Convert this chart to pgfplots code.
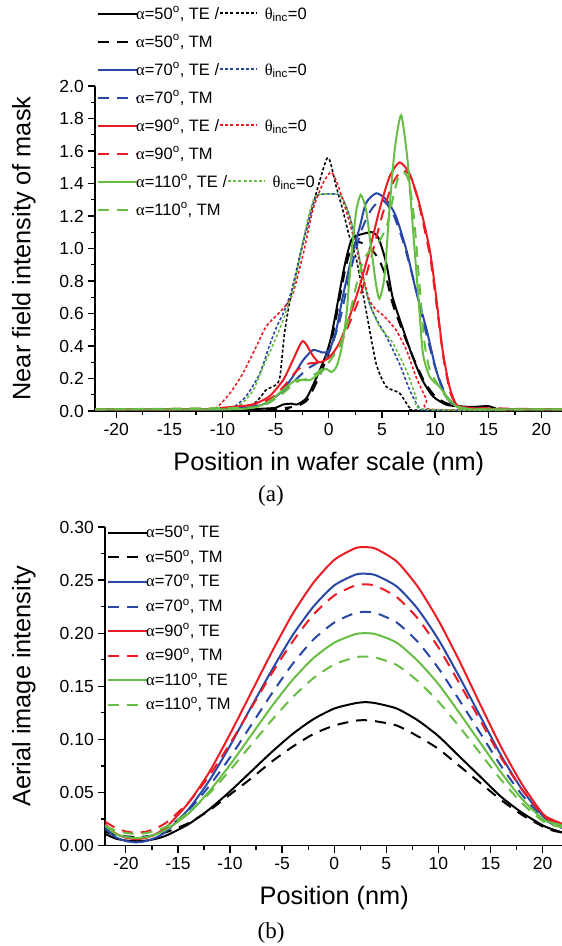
\documentclass[border=0pt]{standalone}
\usepackage{fontspec}
\setmainfont{Liberation Sans}
\newfontfamily\grk{Liberation Serif}
\usepackage{pgfplots}
\pgfplotsset{compat=1.18}

\definecolor{cblue}{RGB}{41,72,165}
\definecolor{cred}{RGB}{236,28,36}
\definecolor{cgreen}{RGB}{104,189,69}

\newcommand{\tickfont}{\fontsize{17.5}{21}\selectfont}
\newcommand{\legfont}{\fontsize{16.5}{19.8}\selectfont}
\newcommand{\labfont}{\fontsize{25.3}{30}\selectfont}
\newcommand{\al}{{\grk α}}
\newcommand{\tht}{{\grk θ}}
\newcommand{\dsample}[1]{\tikz[baseline=-6pt]\draw[#1,line width=1.6pt,dash pattern=on 3pt off 2.2pt](0pt,0pt)--(37pt,0pt);}
\newcommand{\teentry}[2]{\al=#1\textsuperscript{o}, TE /\dsample{#2}\hspace{7pt}\tht\textsubscript{inc}=0}
\newcommand{\tmentry}[1]{\al=#1\textsuperscript{o}, TM}

\pgfplotsset{
  te/.style={line width=2pt, smooth, tension=0.4},
  tm/.style={line width=2pt, dash pattern=on 11pt off 8pt, smooth, tension=0.4},
  inc/.style={line width=1.6pt, dash pattern=on 3pt off 2.2pt, smooth, tension=0.4},
  panel/.style={
    scale only axis, anchor=south west,
    xmin=-22, xmax=22, ymin=0,
    axis x line*=bottom, axis y line*=left,
    axis line style={-, line width=1.5pt},
    tick align=outside, major tick length=7pt, minor tick length=4pt,
    every tick/.style={black, line width=1.3pt},
    xtick={-20,-15,...,20}, minor x tick num=1, minor y tick num=1,
    tick label style={font=\tickfont, inner sep=0pt},
    /pgf/number format/assume math mode=true,
    xticklabel shift=5pt, yticklabel shift=4pt,
    label style={font=\labfont},
    legend cell align=left,
    legend image code/.code={\draw[#1] (0pt,0pt) -- (40pt,0pt);},
  },
}

\begin{document}
\begin{tikzpicture}
\useasboundingbox (0pt,0pt) rectangle (562pt,-946pt);

% (a) near field
\begin{axis}[panel,
  at={(95pt,-411pt)}, width=467.7pt, height=325pt, ymax=2,
  ytick={0,0.2,0.4,0.6,0.8,1.0,1.2,1.4,1.6,1.8,2.0},
  yticklabel style={/pgf/number format/.cd, fixed, fixed zerofill, precision=1},
  xlabel={Position in wafer scale (nm)},
  ylabel={Near field intensity of mask},
  xlabel style={at={(axis description cs:0.5,-0.163)}, anchor=center},
  ylabel style={at={(axis description cs:-0.152,0.5)}, anchor=center},
  legend style={at={(axis description cs:0,1)}, anchor=north west,
    xshift=2pt, yshift=84pt, draw=none, fill=none, inner sep=0pt,
    row sep=4pt, column sep=-4pt, font=\legfont,
    nodes={inner sep=1pt, text height=16pt, text depth=6pt}},
]
% theta_inc = 0 (dotted)
\addplot[black, inc, forget plot] coordinates {
 (-22,0.008) (-12,0.008) (-9,0.01) (-7.5,0.02) (-6.5,0.08) (-5.9,0.13) (-5.0,0.16) (-4.6,0.21)
 (-4.17,0.48) (-3.54,0.72) (-2.45,1.03) (-1.19,1.34) (-0.25,1.545) (0.1,1.54) (0.7,1.38)
 (1.3,1.24) (1.95,1.07) (2.6,0.93) (3.5,0.62) (4.46,0.29) (5.4,0.15) (6.65,0.11) (7.6,0.02)
 (8.5,0.005) (22,0.005)};
\addplot[cblue, inc, forget plot] coordinates {
 (-22,0.01) (-11,0.01) (-9.1,0.02) (-7.8,0.09) (-6.5,0.23) (-5.6,0.40) (-4.9,0.52) (-4.3,0.60)
 (-3.4,0.76) (-2.45,1.03) (-1.8,1.2) (-1.2,1.32) (-0.5,1.335) (0.5,1.335) (1.2,1.32) (1.95,1.2)
 (2.6,1.03) (3.2,0.83) (3.83,0.66) (4.6,0.55) (5.4,0.46) (6.65,0.29) (7.6,0.13) (8.5,0.02)
 (9.5,0.005) (22,0.005)};
\addplot[cred, inc, forget plot] coordinates {
 (-22,0.01) (-12,0.01) (-10.6,0.02) (-9.3,0.11) (-8.1,0.23) (-6.8,0.40) (-5.9,0.52) (-4.9,0.59)
 (-4.17,0.64) (-3.4,0.72) (-2.4,0.97) (-1.5,1.24) (-0.56,1.40) (0.2,1.47) (0.8,1.40) (1.4,1.28)
 (1.95,1.16) (2.6,1.0) (3.2,0.83) (3.83,0.68) (4.5,0.62) (5.1,0.59) (6.3,0.50) (7.3,0.375)
 (8.2,0.21) (9.2,0.07) (9.7,0.01) (22,0.005)};
\addplot[cgreen, inc, forget plot] coordinates {
 (-22,0.01) (-10,0.01) (-8.3,0.04) (-7.1,0.13) (-6.2,0.27) (-5.3,0.40) (-4.3,0.56) (-3.4,0.74)
 (-2.5,1.02) (-1.9,1.2) (-1.3,1.32) (-0.5,1.335) (0.5,1.335) (1.2,1.32) (1.95,1.2) (2.6,1.03)
 (3.2,0.83) (3.83,0.66) (4.77,0.52) (6.0,0.42) (7.3,0.25) (8.2,0.09) (9.1,0.01) (22,0.005)};
% alpha = 50
\addplot[black, te] coordinates {
 (-22,0.01) (-18,0.005) (-15,0.01) (-12,0.01) (-8,0.01) (-6,0.015) (-5,0.02) (-4.3,0.04)
 (-3.5,0.045) (-3,0.04) (-2.1,0.08) (-1.2,0.2) (-0.3,0.34) (0.2,0.45) (0.7,0.62) (1.2,0.8)
 (1.6,0.93) (2.0,1.03) (2.3,1.07) (3.2,1.09) (4.1,1.10) (4.7,1.06) (5.4,0.91) (6.0,0.70)
 (7.0,0.50) (7.9,0.33) (8.8,0.19) (9.8,0.09) (11,0.04) (12,0.03) (13.5,0.025) (15,0.03)
 (16,0.01) (18,0.005) (22,0.005)};
\addlegendentry{\teentry{50}{black}}
\addplot[black, tm] coordinates {
 (-22,0.01) (-5,0.01) (-4,0.02) (-3,0.03) (-2,0.07) (-1,0.2) (0,0.36) (0.7,0.58) (1.5,0.86)
 (2,0.98) (2.7,1.04) (3.5,1.02) (4.2,0.98) (4.8,0.92) (5.4,0.82) (6,0.66) (7,0.48) (8,0.32)
 (9,0.18) (10,0.09) (11,0.05) (12,0.03) (14,0.02) (15,0.03) (16,0.01) (22,0.005)};
\addlegendentry{\tmentry{50}}
% alpha = 70
\addplot[cblue, te] coordinates {
 (-22,0.01) (-15,0.01) (-10,0.01) (-8.1,0.02) (-6.2,0.04) (-4.6,0.11) (-3.4,0.21) (-2.45,0.31)
 (-1.5,0.375) (-0.56,0.36) (0.06,0.375) (0.7,0.50) (1.3,0.70) (2.26,0.98) (2.9,1.13) (3.5,1.28)
 (4.46,1.34) (5.4,1.30) (6.3,1.2) (7.3,0.99) (8.2,0.74) (9.2,0.50) (10.1,0.25) (11.0,0.09)
 (12,0.03) (14,0.015) (16,0.01) (22,0.01)};
\addlegendentry{\teentry{70}{cblue}}
\addplot[cblue, tm] coordinates {
 (-22,0.01) (-10,0.01) (-8,0.02) (-6,0.04) (-5,0.08) (-4,0.14) (-3,0.2) (-2,0.26) (-1,0.3)
 (0,0.36) (1,0.55) (2,0.85) (3,1.1) (4,1.24) (5,1.30) (6,1.22) (7,1.04) (8,0.8) (9,0.52)
 (10,0.27) (11,0.1) (12,0.035) (14,0.015) (22,0.01)};
\addlegendentry{\tmentry{70}}
% alpha = 90
\addplot[cred, te] coordinates {
 (-22,0.01) (-12,0.01) (-10,0.02) (-8.4,0.03) (-7.1,0.04) (-5.6,0.09) (-4.3,0.19) (-3.4,0.31)
 (-2.45,0.43) (-1.5,0.34) (-0.9,0.30) (0.06,0.33) (1.0,0.42) (1.95,0.58) (2.9,0.77) (3.83,0.99)
 (4.77,1.24) (5.7,1.44) (6.65,1.53) (7.6,1.46) (8.5,1.28) (9.5,0.99) (10.1,0.70) (10.7,0.375)
 (11.35,0.15) (12,0.04) (13,0.02) (16,0.01) (22,0.01)};
\addlegendentry{\teentry{90}{cred}}
\addplot[cred, tm] coordinates {
 (-22,0.01) (-10,0.015) (-8,0.03) (-6,0.06) (-5,0.1) (-4,0.17) (-3,0.25) (-2,0.29) (-1,0.3)
 (0,0.33) (1,0.4) (2,0.55) (3,0.72) (4,0.95) (5,1.2) (6,1.40) (6.9,1.48) (7.6,1.45) (8.3,1.32)
 (9,1.12) (9.6,0.92) (10.2,0.62) (10.8,0.32) (11.4,0.12) (12,0.04) (13,0.02) (22,0.01)};
\addlegendentry{\tmentry{90}}
% alpha = 110
\addplot[cgreen, te] coordinates {
 (-22,0.01) (-10,0.01) (-7.1,0.02) (-5.6,0.06) (-4.3,0.13) (-3.1,0.19) (-1.8,0.19) (-0.9,0.23)
 (-0.3,0.26) (0.25,0.24) (0.7,0.27) (1.16,0.375) (1.64,0.58) (1.95,0.83) (2.26,1.05) (2.6,1.24)
 (3.0,1.33) (3.5,1.24) (4.0,0.99) (4.46,0.77) (4.77,0.69) (5.24,0.83) (5.7,1.24) (6.2,1.61)
 (6.8,1.82) (7.4,1.545) (7.9,1.13) (8.4,0.72) (8.85,0.355) (9.5,0.21) (10.4,0.15) (11.35,0.07)
 (12.2,0.02) (14,0.01) (22,0.01)};
\addlegendentry{\teentry{110}{cgreen}}
\addplot[cgreen, tm] coordinates {
 (-22,0.01) (-8,0.02) (-6,0.04) (-4.5,0.1) (-3,0.18) (-2,0.2) (-1,0.24) (0,0.3) (1,0.4)
 (1.8,0.55) (2.5,0.75) (3.2,0.92) (4,1.0) (4.8,1.05) (5.5,1.15) (6,1.3) (6.5,1.43) (7,1.47)
 (7.5,1.42) (8,1.2) (8.5,0.8) (9,0.42) (9.5,0.25) (10.2,0.17) (11,0.09) (12,0.03) (14,0.01)
 (22,0.01)};
\addlegendentry{\tmentry{110}}
\end{axis}

% (b) aerial image
\begin{axis}[panel,
  at={(105pt,-845.5pt)}, width=458.5pt, height=318.5pt, ymax=0.30,
  ytick={0,0.05,0.10,0.15,0.20,0.25,0.30},
  yticklabel style={/pgf/number format/.cd, fixed, fixed zerofill, precision=2},
  xlabel={Position (nm)},
  ylabel={Aerial image intensity},
  xlabel style={at={(axis description cs:0.5,-0.165)}, anchor=center},
  ylabel style={at={(axis description cs:-0.177,0.5)}, anchor=center},
  legend style={at={(axis description cs:0,1)}, anchor=north west,
    xshift=2pt, yshift=4.5pt, draw=none, fill=none, inner sep=0pt,
    row sep=4.6pt, column sep=-4pt, font=\legfont,
    nodes={inner sep=1pt, text height=14pt, text depth=4pt}},
]
\addplot[black, te] coordinates {
 (-22,0.011) (-21,0.0066) (-20,0.0047) (-19,0.004) (-18,0.0047) (-17,0.0066) (-16,0.0099)
 (-14,0.020) (-12,0.034) (-10,0.051) (-8,0.0695) (-6,0.088) (-4,0.105) (-2,0.119) (0,0.129)
 (2,0.134) (3,0.135) (4,0.134) (6,0.129) (8,0.118) (10,0.103) (12,0.084) (14,0.065) (16,0.046)
 (18,0.031) (20,0.019) (21,0.015) (22,0.012)};
\addlegendentry{\al=50\textsuperscript{o}, TE}
\addplot[black, tm] coordinates {
 (-22,0.013) (-21,0.010) (-20,0.0086) (-19,0.008) (-18,0.0086) (-17,0.010) (-16,0.013)
 (-14,0.021) (-12,0.033) (-10,0.048) (-8,0.063) (-6,0.079) (-4,0.093) (-2,0.105) (0,0.113)
 (2,0.1175) (3,0.118) (4,0.117) (6,0.113) (8,0.103) (10,0.091) (12,0.075) (14,0.059) (16,0.043)
 (18,0.029) (20,0.018) (21,0.014) (22,0.012)};
\addlegendentry{\al=50\textsuperscript{o}, TM}
\addplot[cblue, te] coordinates {
 (-22,0.016) (-21,0.008) (-20,0.0043) (-19,0.003) (-18,0.0043) (-17,0.008) (-16,0.0144)
 (-14,0.034) (-12,0.061) (-10,0.094) (-8,0.130) (-6,0.165) (-4,0.198) (-2,0.225) (0,0.245)
 (2,0.255) (3,0.256) (4,0.2545) (6,0.244) (8,0.223) (10,0.194) (12,0.159) (14,0.122) (16,0.085)
 (18,0.053) (20,0.028) (21,0.022) (22,0.018)};
\addlegendentry{\al=70\textsuperscript{o}, TE}
\addplot[cblue, tm] coordinates {
 (-22,0.017) (-21,0.0113) (-20,0.0081) (-19,0.007) (-18,0.0081) (-17,0.0113) (-16,0.0166)
 (-14,0.033) (-12,0.056) (-10,0.083) (-8,0.113) (-6,0.143) (-4,0.171) (-2,0.194) (0,0.210)
 (2,0.219) (3,0.220) (4,0.219) (6,0.210) (8,0.192) (10,0.167) (12,0.137) (14,0.106) (16,0.075)
 (18,0.048) (20,0.026) (21,0.020) (22,0.016)};
\addlegendentry{\al=70\textsuperscript{o}, TM}
\addplot[cred, te] coordinates {
 (-22,0.020) (-21,0.0115) (-20,0.0074) (-19,0.006) (-18,0.0074) (-17,0.0115) (-16,0.0184)
 (-14,0.040) (-12,0.069) (-10,0.105) (-8,0.1435) (-6,0.182) (-4,0.218) (-2,0.2475) (0,0.269)
 (2,0.280) (3,0.281) (4,0.2795) (6,0.2675) (8,0.244) (10,0.212) (12,0.174) (14,0.133) (16,0.093)
 (18,0.058) (20,0.030) (21,0.024) (22,0.020)};
\addlegendentry{\al=90\textsuperscript{o}, TE}
\addplot[cred, tm] coordinates {
 (-22,0.0225) (-21,0.0167) (-20,0.0132) (-19,0.012) (-18,0.0132) (-17,0.0167) (-16,0.0225)
 (-14,0.0405) (-12,0.0656) (-10,0.096) (-8,0.129) (-6,0.162) (-4,0.192) (-2,0.2175) (0,0.2355)
 (2,0.2449) (3,0.246) (4,0.2445) (6,0.234) (8,0.214) (10,0.1865) (12,0.153) (14,0.118) (16,0.083)
 (18,0.053) (20,0.029) (21,0.022) (22,0.019)};
\addlegendentry{\al=90\textsuperscript{o}, TM}
\addplot[cgreen, te] coordinates {
 (-22,0.019) (-21,0.011) (-20,0.008) (-19,0.007) (-18,0.008) (-17,0.011) (-16,0.0157)
 (-14,0.030) (-12,0.051) (-10,0.076) (-8,0.1035) (-6,0.131) (-4,0.156) (-2,0.1765) (0,0.191)
 (2,0.199) (3,0.200) (4,0.199) (6,0.191) (8,0.174) (10,0.152) (12,0.125) (14,0.097) (16,0.069)
 (18,0.044) (20,0.025) (21,0.021) (22,0.019)};
\addlegendentry{\al=110\textsuperscript{o}, TE}
\addplot[cgreen, tm] coordinates {
 (-22,0.0185) (-21,0.0143) (-20,0.0118) (-19,0.011) (-18,0.0118) (-17,0.0143) (-16,0.0185)
 (-14,0.031) (-12,0.049) (-10,0.071) (-8,0.0945) (-6,0.118) (-4,0.1396) (-2,0.1576) (0,0.1705)
 (2,0.1772) (3,0.178) (4,0.177) (6,0.170) (8,0.155) (10,0.1355) (12,0.112) (14,0.087) (16,0.062)
 (18,0.040) (20,0.023) (21,0.019) (22,0.017)};
\addlegendentry{\al=110\textsuperscript{o}, TM}
\end{axis}

\node[font={\grk\fontsize{23}{27}\selectfont}] at (271pt,-496pt) {(a)};
\node[font={\grk\fontsize{23}{27}\selectfont}] at (271pt,-933pt) {(b)};
\end{tikzpicture}
\end{document}
